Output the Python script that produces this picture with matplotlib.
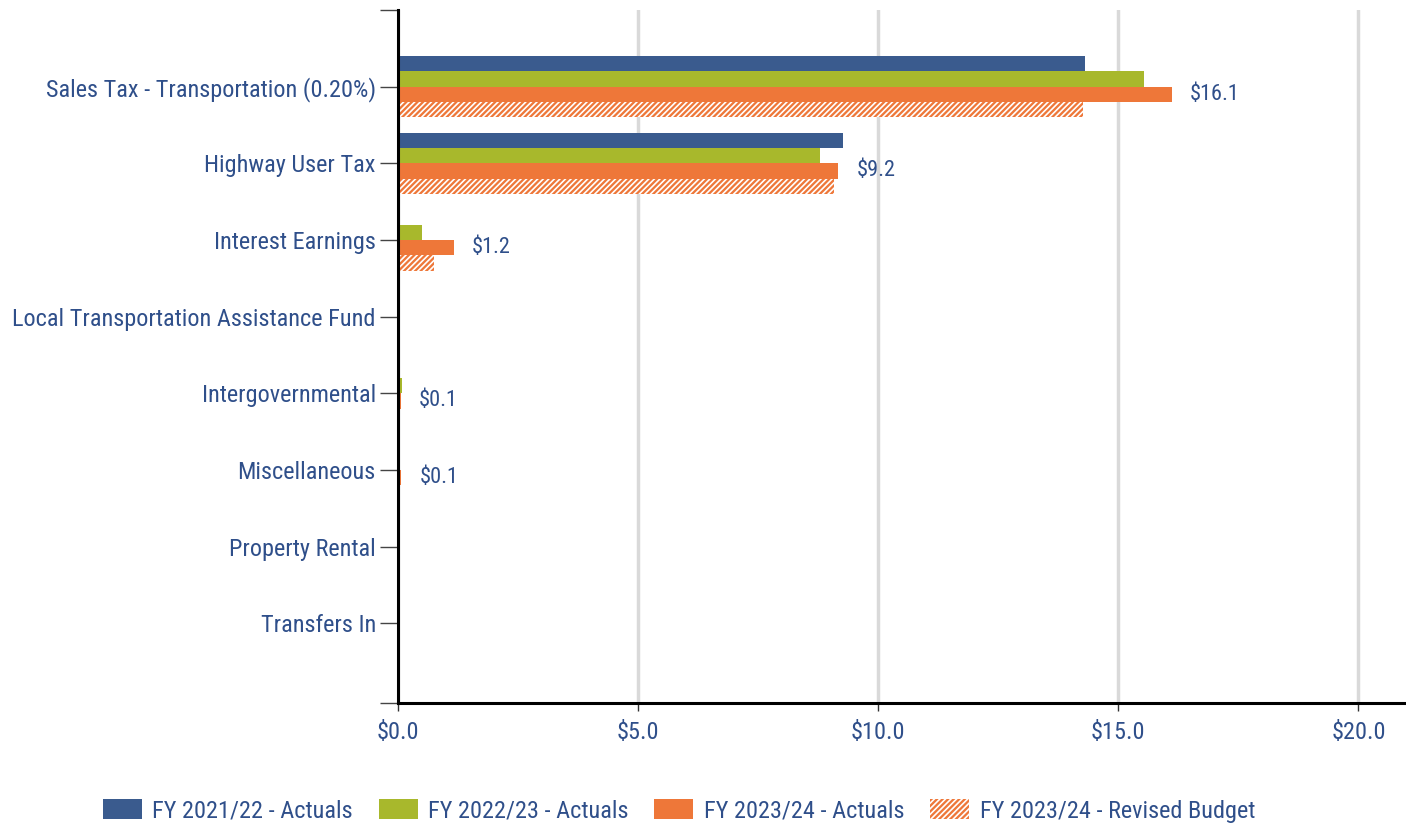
import matplotlib
matplotlib.use("Agg")
import matplotlib.pyplot as plt
from matplotlib import font_manager
from matplotlib.patches import Patch
import numpy as np

# ── Data (millions) ──────────────────────────────────────────────────────────
categories = [
    "Sales Tax - Transportation (0.20%)",
    "Highway User Tax",
    "Interest Earnings",
    "Local Transportation Assistance Fund",
    "Intergovernmental",
    "Miscellaneous",
    "Property Rental",
    "Transfers In",
]
fy22_actuals = [14.31, 9.27, 0.0, 0.0, 0.0, 0.0, 0.0, 0.0]
fy23_actuals = [15.54, 8.79, 0.49, 0.0, 0.08, 0.01, 0.0, 0.0]
fy24_actuals = [16.12, 9.17, 1.16, 0.0, 0.06, 0.07, 0.0, 0.0]
fy24_revised = [14.27, 9.08, 0.74, 0.0, 0.02, 0.0, 0.0, 0.0]
series_names = ["FY 2021/22 - Actuals", "FY 2022/23 - Actuals",
                "FY 2023/24 - Actuals", "FY 2023/24 - Revised Budget"]
x_ticks = [0, 5, 10, 15, 20]

BLUE = "#3a5b8e"
GREEN = "#a8b82c"
ORANGE = "#ee7739"
TEXT = "#2f4f8a"
FS = 17.5

# pick a condensed face if one is installed
available = {f.name for f in font_manager.fontManager.ttflist}
family = "Roboto"
for cand in ["Roboto Condensed", "Liberation Sans Narrow", "DejaVu Sans Condensed"]:
    if cand in available:
        family = cand
        break
plt.rcParams["font.family"] = family
plt.rcParams["hatch.linewidth"] = 1.2

fig = plt.figure(figsize=(14.06, 8.25), dpi=100)
ax = fig.add_axes([0.2831, 0.1479, 0.7155, 0.84])

y = np.arange(len(categories))
h = 0.2
series = [fy22_actuals, fy23_actuals, fy24_actuals, fy24_revised]
colors = [BLUE, GREEN, ORANGE, ORANGE]
offsets = [-0.3, -0.1, 0.1, 0.3]

for vals, col, off, name in zip(series, colors, offsets, series_names):
    if "Revised" in name:
        ax.barh(y + off, vals, height=h, color=col, edgecolor="white",
                linewidth=0, hatch="//////", zorder=3)
    else:
        ax.barh(y + off, vals, height=h, color=col, linewidth=0, zorder=3)

# value labels on the current-year actuals
for yi, v in zip(y, fy24_actuals):
    if v >= 0.05:
        ax.annotate(f"${v:.1f}", (v, yi + 0.1), xytext=(13, 0),
                    textcoords="offset points", va="center", ha="left",
                    color=TEXT, fontsize=16)

ax.set_xlim(0, 20.95)
ax.set_ylim(8.04, -1.0)
ax.set_xticks(x_ticks)
ax.set_xticklabels([f"${t:.1f}" for t in x_ticks])
ax.set_yticks(list(y) + [-1.0, 8.04])
ax.set_yticklabels(categories + ["", ""])

ax.grid(axis="x", color="#d9d9d9", linewidth=2.5, zorder=0)
ax.set_axisbelow(True)
for s in ["top", "right"]:
    ax.spines[s].set_visible(False)
ax.spines["left"].set_linewidth(2.2)
ax.spines["bottom"].set_linewidth(2.2)
ax.spines["left"].set_zorder(5)

ax.tick_params(axis="y", length=13, width=1, color="#444444", pad=3,
               labelsize=FS, labelcolor=TEXT)
ax.tick_params(axis="x", length=6, width=1, color="#333333", pad=7,
               labelsize=FS, labelcolor=TEXT)

handles = [Patch(facecolor=BLUE), Patch(facecolor=GREEN), Patch(facecolor=ORANGE),
           Patch(facecolor=ORANGE, edgecolor="white", hatch="//////", linewidth=0)]
fig.legend(handles, series_names, loc="center", bbox_to_anchor=(0.483, 0.017),
           ncol=4, frameon=False, fontsize=FS, labelcolor=TEXT,
           handlelength=1.6, handleheight=0.9, handletextpad=0.45, columnspacing=1.05)

fig.savefig("out.png", dpi=100)
